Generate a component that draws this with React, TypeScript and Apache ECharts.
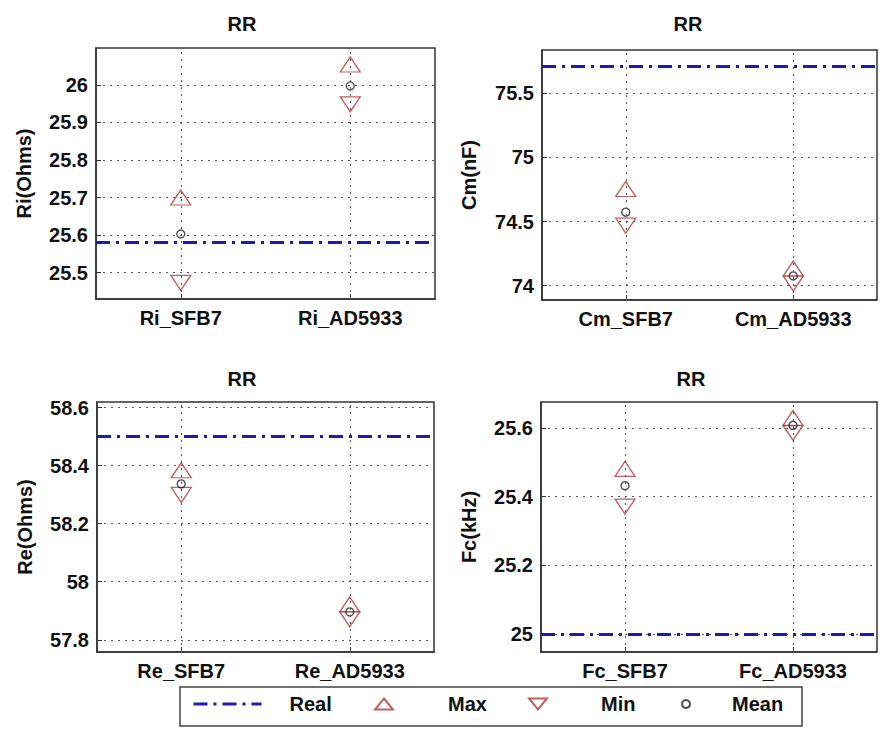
import React, { useEffect, useRef } from "react";
import * as echarts from "echarts";

// Ri panel
const riCategories = ["Ri_SFB7", "Ri_AD5933"];
const riMax = [25.7, 26.054];
const riMin = [25.473, 25.948];
const riMean = [25.603, 25.997];
const riReal = 25.58;

// Cm panel
const cmCategories = ["Cm_SFB7", "Cm_AD5933"];
const cmMax = [74.754, 74.134];
const cmMin = [74.468, 74.017];
const cmMean = [74.573, 74.076];
const cmReal = 75.708;

// Re panel
const reCategories = ["Re_SFB7", "Re_AD5933"];
const reMax = [58.384, 57.922];
const reMin = [58.299, 57.871];
const reMean = [58.337, 57.896];
const reReal = 58.5;

// Fc panel
const fcCategories = ["Fc_SFB7", "Fc_AD5933"];
const fcMax = [25.481, 25.629];
const fcMin = [25.371, 25.586];
const fcMean = [25.432, 25.608];
const fcReal = 25.0;

// value-axis limits and tick steps, one per panel
const yLimits = [
  [25.43, 26.098],
  [73.888, 75.838],
  [57.758, 58.619],
  [24.947, 25.676],
];
const yTickSteps = [0.1, 0.5, 0.2, 0.2];
const yNames = ["Ri(Ohms)", "Cm(nF)", "Re(Ohms)", "Fc(kHz)"];
const panelTitle = "RR";

const panels = [
  { cats: riCategories, max: riMax, min: riMin, mean: riMean, real: riReal },
  { cats: cmCategories, max: cmMax, min: cmMin, mean: cmMean, real: cmReal },
  { cats: reCategories, max: reMax, min: reMin, mean: reMean, real: reReal },
  { cats: fcCategories, max: fcMax, min: fcMin, mean: fcMean, real: fcReal },
];

const FONT = "Liberation Sans, Arial, sans-serif";
const TEXT = { fontFamily: FONT, fontWeight: "bold" as const, fontSize: 20, color: "#111" };
const BLUE = "#1d1daa";
const RED = "#b23636";
const BOX = "#333";
const GRID_DOT = { color: "#555", width: 1, type: [2, 5] };
const REAL_LINE = { color: BLUE, width: 3, type: [14, 6, 3, 6] };
const HIDDEN_ITEM = { color: "rgba(0,0,0,0)", borderColor: "rgba(0,0,0,0)", borderWidth: 0, opacity: 0 };
// downward-pointing triangle used as the "Min" legend icon
const DOWN_TRIANGLE_ICON = "path://M0 0L20 0L10 15Z";

const gridRects = [
  { left: 96, top: 48, width: 339, height: 251 },
  { left: 542, top: 50, width: 335, height: 250 },
  { left: 97, top: 402, width: 337, height: 250 },
  { left: 541, top: 402, width: 336, height: 250 },
];
const nameGaps = [62, 63, 62, 62];
const titlePos = [
  { left: 242, top: 14 },
  { left: 688, top: 14 },
  { left: 242, top: 369 },
  { left: 691, top: 369 },
];

function buildOption() {
  const grid = gridRects.map((g) => ({
    ...g,
    show: true,
    borderColor: BOX,
    borderWidth: 1.5,
  }));

  const xAxis = panels.map((p, i) => ({
    gridIndex: i,
    type: "category",
    data: p.cats,
    boundaryGap: true,
    axisLine: { show: true, lineStyle: { color: BOX, width: 1.5 } },
    axisTick: { show: true, inside: true, alignWithLabel: true, length: 5, lineStyle: { color: BOX } },
    axisLabel: { ...TEXT, margin: 9 },
    splitLine: { show: false },
  }));

  const yAxis = panels.map((p, i) => ({
    gridIndex: i,
    type: "value",
    min: yLimits[i][0],
    max: yLimits[i][1],
    minInterval: yTickSteps[i],
    maxInterval: yTickSteps[i],
    name: yNames[i],
    nameLocation: "middle",
    nameGap: nameGaps[i],
    nameTextStyle: { ...TEXT },
    axisLine: { show: true, lineStyle: { color: BOX, width: 1.5 } },
    axisTick: { show: true, inside: true, length: 5, lineStyle: { color: BOX } },
    axisLabel: { ...TEXT, margin: 8, showMinLabel: false, showMaxLabel: false },
    splitLine: {
      show: true,
      showMinLine: false,
      showMaxLine: false,
      lineStyle: GRID_DOT,
    },
  }));

  const series: any[] = [];
  panels.forEach((p, i) => {
    series.push({
      name: "Real",
      type: "line",
      xAxisIndex: i,
      yAxisIndex: i,
      data: [],
      symbol: "none",
      z: 2,
      lineStyle: REAL_LINE,
      itemStyle: { color: BLUE },
      markLine: {
        silent: true,
        symbol: ["none", "none"],
        label: { show: false },
        emphasis: { disabled: true },
        data: [
          { xAxis: p.cats[0], lineStyle: GRID_DOT },
          { xAxis: p.cats[1], lineStyle: GRID_DOT },
          { yAxis: p.real, lineStyle: REAL_LINE },
        ],
      },
    });
    series.push({
      name: "Max",
      type: "scatter",
      xAxisIndex: i,
      yAxisIndex: i,
      data: p.max,
      symbol: "triangle",
      symbolSize: [20, 15],
      z: 3,
      itemStyle: { color: "rgba(255,255,255,0)", borderColor: RED, borderWidth: 1.3 },
    });
    series.push({
      name: "Min",
      type: "scatter",
      xAxisIndex: i,
      yAxisIndex: i,
      data: p.min,
      symbol: "triangle",
      symbolRotate: 180,
      symbolSize: [20, 15],
      z: 3,
      itemStyle: { color: "rgba(255,255,255,0)", borderColor: RED, borderWidth: 1.3 },
    });
    series.push({
      name: "Mean",
      type: "scatter",
      xAxisIndex: i,
      yAxisIndex: i,
      data: p.mean,
      symbol: "circle",
      symbolSize: 8,
      z: 4,
      itemStyle: { color: "rgba(255,255,255,0)", borderColor: "#222", borderWidth: 1.4 },
    });
  });

  const legendBase = {
    top: 694,
    padding: 0,
    selectedMode: false,
    symbolKeepAspect: false,
  };
  const legend = [
    {
      ...legendBase,
      data: ["Real"],
      left: 192,
      itemWidth: 68,
      itemHeight: 14,
      itemStyle: HIDDEN_ITEM,
      lineStyle: REAL_LINE,
      textStyle: { ...TEXT, padding: [0, 0, 0, 23] },
    },
    { ...legendBase, data: ["Max"], left: 374, itemWidth: 18, itemHeight: 11, textStyle: { ...TEXT, padding: [0, 0, 0, 50] } },
    {
      ...legendBase,
      data: [{ name: "Min", icon: DOWN_TRIANGLE_ICON }],
      left: 528,
      itemWidth: 18,
      itemHeight: 11,
      textStyle: { ...TEXT, padding: [0, 0, 0, 49] },
    },
    { ...legendBase, data: ["Mean"], left: 681, itemWidth: 8, itemHeight: 8, textStyle: { ...TEXT, padding: [0, 0, 0, 37] } },
  ];

  const title = titlePos.map((t) => ({
    text: panelTitle,
    left: t.left,
    top: t.top,
    textAlign: "center",
    padding: 0,
    textStyle: { ...TEXT },
  }));

  return {
    animation: false,
    backgroundColor: "#fff",
    title,
    grid,
    xAxis,
    yAxis,
    series,
    legend,
    graphic: [
      {
        type: "rect",
        z: -1,
        shape: { x: 180, y: 687, width: 622, height: 39 },
        style: { fill: "#fff", stroke: "#444", lineWidth: 1.5 },
      },
    ],
  };
}

export default function App() {
  const ref = useRef<HTMLDivElement>(null);
  useEffect(() => {
    if (!ref.current) return;
    const chart = echarts.init(ref.current, undefined, { renderer: "svg" });
    chart.setOption(buildOption() as any);
    return () => chart.dispose();
  }, []);
  return (
    <div
      ref={ref}
      style={{ position: "absolute", left: 0, top: 0, width: 880, height: 737 }}
    />
  );
}
